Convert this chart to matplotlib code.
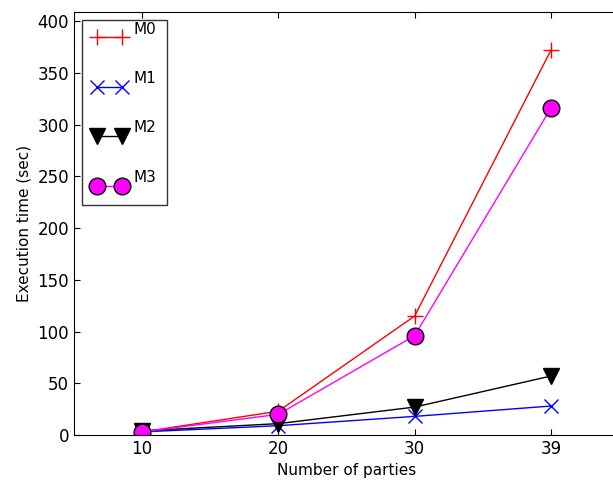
import matplotlib
matplotlib.use("Agg")
import matplotlib.pyplot as plt

# datos
partes = ["10", "20", "30", "39"]
m0 = [3, 23, 115, 372]
m1 = [3, 9, 18, 28]
m2 = [4, 11, 27, 57]
m3 = [3, 20, 96, 316]

fig = plt.figure(figsize=(6.13, 4.8), dpi=100)
ax = fig.add_axes([74 / 613, 45 / 480, 545 / 613, 423 / 480])

x = range(len(partes))
ax.plot(x, m0, color="red", marker="+", markersize=12, mew=1, lw=1, label="M0")
ax.plot(x, m1, color="blue", marker="x", markersize=10, mew=1, lw=1, label="M1")
ax.plot(x, m2, color="black", marker="v", markersize=12, lw=1, label="M2")
ax.plot(x, m3, color="magenta", marker="o", markersize=12, mec="black", lw=1, label="M3")

ax.set_xticks(list(x))
ax.set_xticklabels(partes)
ax.set_xlim(-0.5, 3.5)
ax.set_ylim(0, 409)
ax.set_yticks(range(0, 401, 50))
ax.tick_params(direction="in", top=True, right=True, labelsize=12, length=4)
ax.set_xlabel("Number of parties", fontsize=11)
ax.set_ylabel("Execution time (sec)", fontsize=11)

leg = ax.legend(loc="upper left", numpoints=2, fontsize=11, labelspacing=2.25,
                handlelength=2.2, handletextpad=0.45, fancybox=False,
                borderpad=0.7, borderaxespad=0, bbox_to_anchor=(8 / 545, 0.981))
leg.get_frame().set_edgecolor("black")
# etiquetas un poco por encima de la linea, como en el original
for t in leg.get_texts():
    t.set_y(9)

fig.savefig("out.png", dpi=100)
